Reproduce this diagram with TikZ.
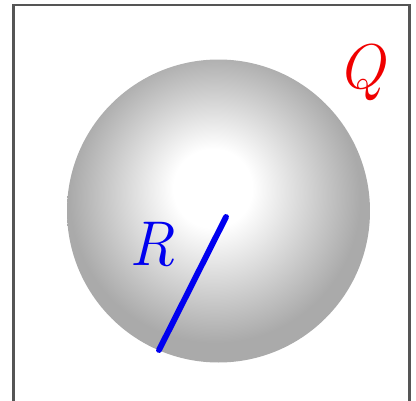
\documentclass[tikz,border=0pt]{standalone}
\usepackage{fontspec}
\usepackage{tikz}
\usetikzlibrary{positioning}
\definecolor{spFrame}{HTML}{555555}
\definecolor{spBall}{HTML}{AAAAAA}
\definecolor{spRadius}{HTML}{0000F0}
\definecolor{spLabelQ}{HTML}{F00000}
% Sphere shading (light spot a little above centre)
\pgfdeclareradialshading{spSphere}{\pgfpoint{-1.1bp}{4.3bp}}{%
  color(0bp)=(white); color(6.5bp)=(white);
  color(24bp)=(spBall); color(30bp)=(spBall); color(50bp)=(spBall)}
\tikzset{
  % Frame lines
  frm/.style={draw=spFrame,line width=1.6pt},
  % Radius line
  rad/.style={draw=spRadius,line width=4.2pt,line cap=round},
  % Letter labels
  lbl/.style={inner sep=0pt,anchor=base,
    font=\fontsize{45}{45}\selectfont\itshape},
}
\begin{document}
\begin{tikzpicture}[x=0.025cm,y=-0.025cm]
  \useasboundingbox (0,0) rectangle (416,401);

  % Frame (bottom edge runs off the picture)
  \draw[frm] (13.5,401) -- (13.5,5) -- (409.5,5) -- (409.5,401);

  % Sphere
  \shade[shading=spSphere] (218.5,211) circle (151.5);

  % Radius
  \coordinate (centre) at (226,217);
  \coordinate (rim) at (159,350);
  \draw[rad] (centre) -- (rim);

  % Labels
  \node[lbl,text=spRadius] (labR) at (152.5,265) {R};
  \node[lbl,text=spLabelQ] (labQ) at (361.5,88) {Q};
\end{tikzpicture}
\end{document}
